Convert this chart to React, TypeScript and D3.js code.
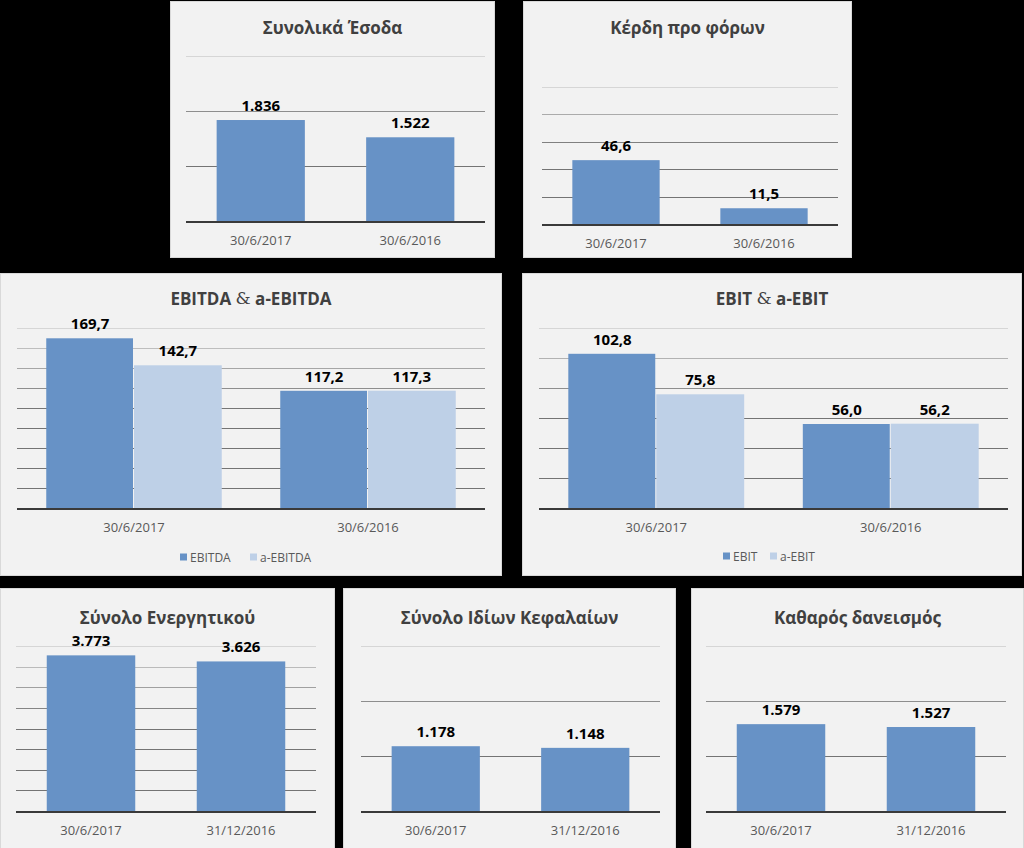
import React from "react";
import * as d3 from "d3";

// ---- data ----
const periodsPL = ["30/6/2017", "30/6/2016"];
const periodsBS = ["30/6/2017", "31/12/2016"];
const revenue = [1836, 1522];
const profitBeforeTax = [46.6, 11.5];
const ebitda = [169.7, 117.2];
const aEbitda = [142.7, 117.3];
const ebit = [102.8, 56.0];
const aEbit = [75.8, 56.2];
const totalAssets = [3773, 3626];
const totalEquity = [1178, 1148];
const netDebt = [1579, 1527];

const locale = d3.formatLocale({ decimal: ",", thousands: ".", grouping: [3], currency: ["", "€"] });
const fmtInt = locale.format(",.0f");
const fmtDec = locale.format(",.1f");

const DARK = "#6792c6";
const LIGHT = "#bed0e7";
const FONT = "'Open Sans', 'Noto Sans', sans-serif";

type Series = { name: string; values: number[]; color: string };
type Panel = {
  title: React.ReactNode;
  box: [number, number, number, number];
  x: [number, number];
  yBase: number;
  yTop: number;
  titleY: number;
  categories: string[];
  series: Series[];
  max: number;
  step: number;
  fmt: (v: number) => string;
  gap: number;
  legendY?: number;
  legendX?: number[];
};

const amp = (a: string, b: string) => (
  <>
    {a + " "}
    <tspan fontWeight="normal" fontFamily="'DejaVu Serif', serif">&amp;</tspan>
    {" " + b}
  </>
);

const panels: Panel[] = [
  { title: "Συνολικά Έσοδα", box: [170, 1, 495, 258], x: [186, 485], yBase: 221, yTop: 56, titleY: 27,
    categories: periodsPL, series: [{ name: "", values: revenue, color: DARK }], max: 3000, step: 1000, fmt: fmtInt, gap: 0.41 },
  { title: "Κέρδη προ φόρων", box: [523, 1, 852, 258], x: [542, 838], yBase: 224, yTop: 87, titleY: 27,
    categories: periodsPL, series: [{ name: "", values: profitBeforeTax, color: DARK }], max: 100, step: 20, fmt: fmtDec, gap: 0.41 },
  { title: amp("EBITDA", "a-EBITDA"), box: [0, 273, 502, 576], x: [17, 485], yBase: 508, yTop: 328, titleY: 298,
    categories: periodsPL, series: [{ name: "EBITDA", values: ebitda, color: DARK }, { name: "a-EBITDA", values: aEbitda, color: LIGHT }],
    max: 180, step: 20, fmt: fmtDec, gap: 0.25, legendY: 557, legendX: [180, 250] },
  { title: amp("EBIT", "a-EBIT"), box: [522, 273, 1022, 576], x: [539, 1008], yBase: 508, yTop: 328, titleY: 298,
    categories: periodsPL, series: [{ name: "EBIT", values: ebit, color: DARK }, { name: "a-EBIT", values: aEbit, color: LIGHT }],
    max: 120, step: 20, fmt: fmtDec, gap: 0.25, legendY: 556, legendX: [723, 770] },
  { title: "Σύνολο Ενεργητικού", box: [0, 588, 335, 850], x: [16, 316], yBase: 811, yTop: 646, titleY: 617,
    categories: periodsBS, series: [{ name: "", values: totalAssets, color: DARK }], max: 4000, step: 500, fmt: fmtInt, gap: 0.41 },
  { title: "Σύνολο Ιδίων Κεφαλαίων", box: [343, 588, 676, 850], x: [361, 660], yBase: 811, yTop: 646, titleY: 617,
    categories: periodsBS, series: [{ name: "", values: totalEquity, color: DARK }], max: 3000, step: 1000, fmt: fmtInt, gap: 0.41 },
  { title: "Καθαρός δανεισμός", box: [691, 588, 1024, 850], x: [706, 1006], yBase: 811, yTop: 646, titleY: 617,
    categories: periodsBS, series: [{ name: "", values: netDebt, color: DARK }], max: 3000, step: 1000, fmt: fmtInt, gap: 0.41 },
];

const gridColor = d3.interpolateRgb("#d6d6d6", "#747474");

function ChartPanel({ p }: { p: Panel }) {
  const [bx0, by0, bx1, by1] = p.box;
  const xScale = d3.scaleBand<string>().domain(p.categories).range(p.x).paddingInner(p.gap).paddingOuter(p.gap / 2);
  const sScale = d3.scaleBand<string>().domain(p.series.map((s, i) => String(i))).range([0, xScale.bandwidth()]).padding(0);
  const y = d3.scaleLinear().domain([0, p.max]).range([p.yBase, p.yTop]);
  const ticks = d3.range(p.step, p.max + p.step / 2, p.step);
  const cx = (bx0 + bx1) / 2;
  const multi = p.series.length > 1;
  return (
    <g>
      <rect x={bx0 + 0.5} y={by0 + 0.5} width={bx1 - bx0 - 1} height={by1 - by0 - 1} fill="#f2f2f2" stroke="#d9d9d9" />
      <text x={cx} y={p.titleY} textAnchor="middle" dominantBaseline="central" fontFamily={FONT} fontWeight="bold" fontSize={17} fill="#404040">
        {p.title}
      </text>
      {ticks.map((t) => {
        const frac = t / p.max;
        return (
          <line key={t} x1={p.x[0]} x2={p.x[1]} y1={Math.round(y(t)) + 0.5} y2={Math.round(y(t)) + 0.5}
            stroke={gridColor(Math.min(1, (1 - frac) * 2.2))} strokeWidth={1} />
        );
      })}
      {p.categories.map((c, ci) => (
        <g key={c}>
          {p.series.map((s, si) => {
            const x0 = (xScale(c) ?? 0) + (sScale(String(si)) ?? 0);
            const w = sScale.bandwidth() - (multi && si === 0 ? 1 : 0);
            const top = y(s.values[ci]);
            return (
              <g key={si}>
                <rect x={x0} y={top} width={w} height={p.yBase - top} fill={s.color} />
                <text x={x0 + sScale.bandwidth() / 2} y={top - 9} textAnchor="middle" fontFamily={FONT} fontWeight="bold" fontSize={15} fill="#000">
                  {p.fmt(s.values[ci])}
                </text>
              </g>
            );
          })}
          <text x={(xScale(c) ?? 0) + xScale.bandwidth() / 2} y={p.yBase + 19} textAnchor="middle" dominantBaseline="central"
            fontFamily={FONT} fontSize={13} fill="#595959">
            {c}
          </text>
        </g>
      ))}
      <line x1={p.x[0]} x2={p.x[1]} y1={p.yBase + 1} y2={p.yBase + 1} stroke="#3a3a3a" strokeWidth={2} />
      {p.legendY !== undefined && p.legendX &&
        p.series.map((s, si) => (
          <g key={s.name}>
            <rect x={p.legendX![si]} y={p.legendY! - 3.5} width={7} height={7} fill={s.color} />
            <text x={p.legendX![si] + 10} y={p.legendY} dominantBaseline="central" fontFamily={FONT} fontSize={12} fill="#595959">
              {s.name}
            </text>
          </g>
        ))}
    </g>
  );
}

export default function App() {
  return (
    <svg width={1024} height={848} style={{ position: "absolute", left: 0, top: 0, display: "block" }}>
      <rect x={0} y={0} width={1024} height={848} fill="#000" />
      {panels.map((p, i) => (
        <ChartPanel key={i} p={p} />
      ))}
    </svg>
  );
}
